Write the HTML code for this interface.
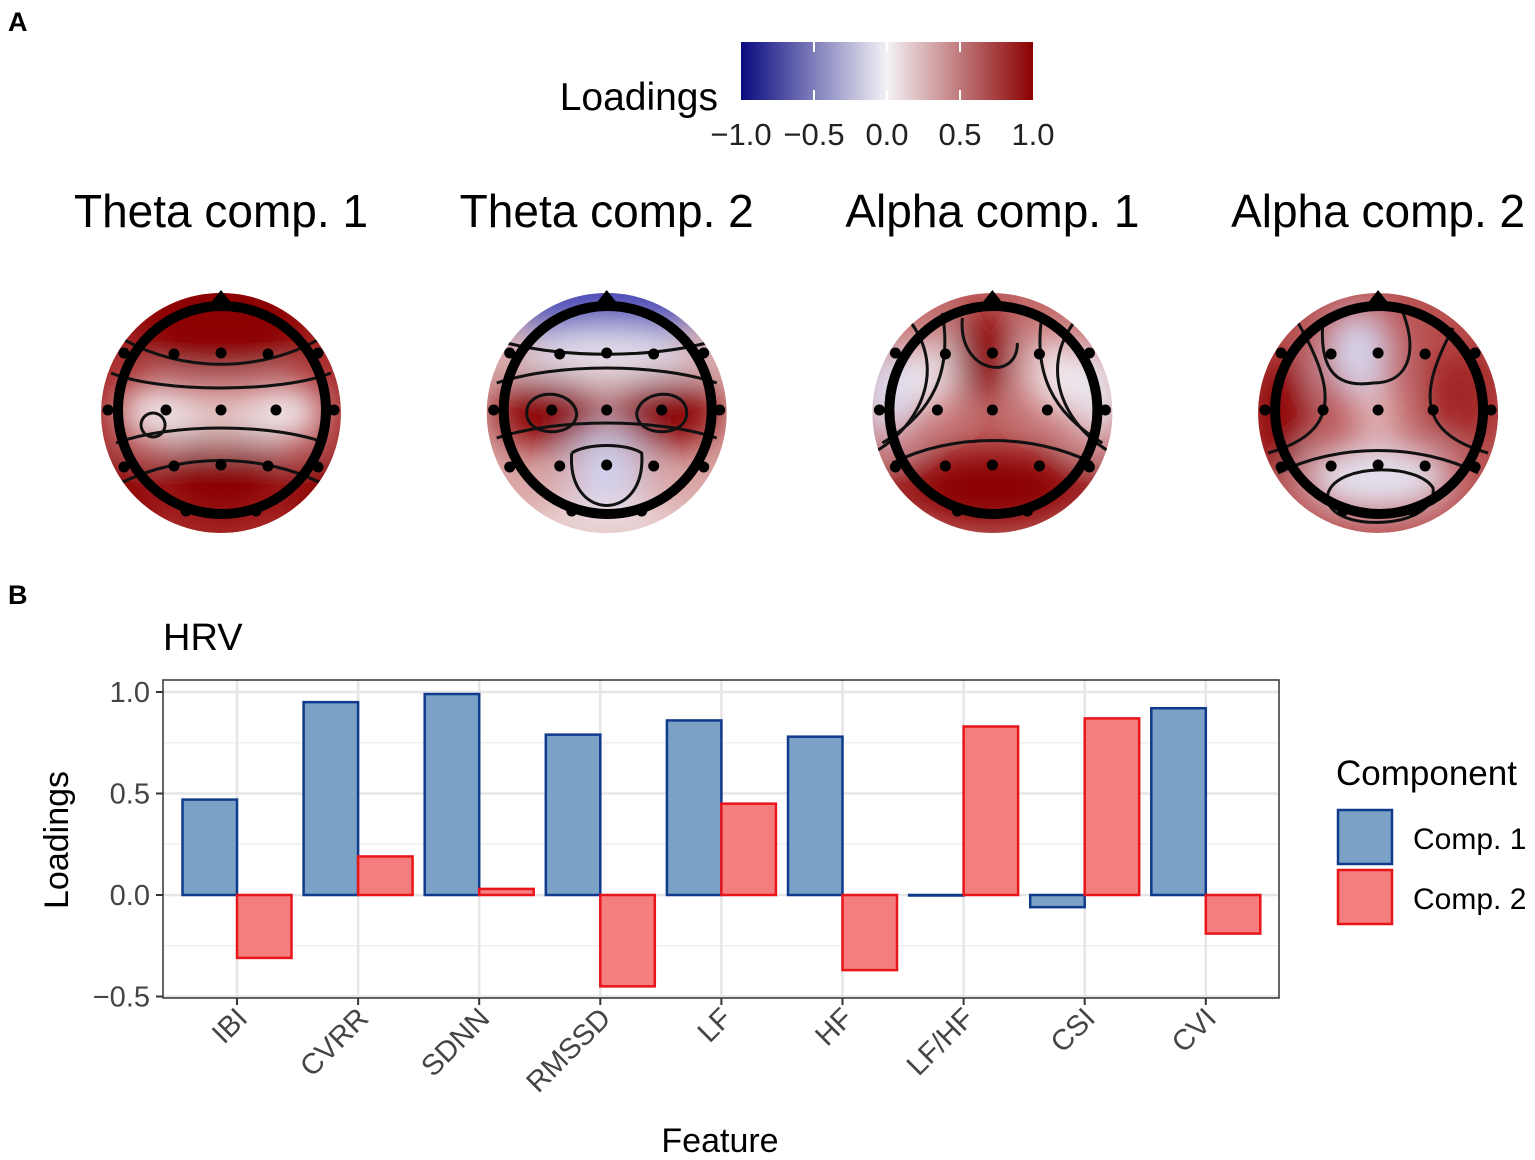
<!DOCTYPE html>
<html><head><meta charset="utf-8"><style>
body{margin:0;background:#fff;}
svg{display:block;font-family:"Liberation Sans",Arial,sans-serif;}
</style></head><body>
<svg id="root" width="1535" height="1160" viewBox="0 0 1535 1160">
<defs>
<linearGradient id="cbar" x1="0" x2="1" y1="0" y2="0">
<stop offset="0" stop-color="#0a0a80"/><stop offset="0.5" stop-color="#f4f2f6"/><stop offset="1" stop-color="#8b0000"/>
</linearGradient>
<filter id="blur" x="-50%" y="-50%" width="200%" height="200%"><feGaussianBlur stdDeviation="18"/></filter>
<clipPath id="hc"><circle cx="0" cy="0" r="120"/></clipPath>
</defs>
<text x="8" y="31" font-size="27" font-weight="bold">A</text>
<text x="8" y="604" font-size="27" font-weight="bold">B</text>
<g>
<text x="718" y="110" font-size="39" text-anchor="end">Loadings</text>
<rect x="741" y="42" width="292" height="58" fill="url(#cbar)"/>
<g id="cbticks" stroke="#fff" stroke-width="2"></g>
<g id="cblabels" font-size="31" fill="#222" text-anchor="middle"></g>
</g>
<g id="heads"></g>
<g id="bars-chart">
<text x="163" y="650" font-size="38">HRV</text>
<rect x="163" y="680" width="1116" height="318" fill="#fff"/>
<g id="grid"></g><g id="bars"></g>
<rect x="163" y="680" width="1116" height="318" fill="none" stroke="#333" stroke-width="1.5"/>
<g id="axes"></g>
<text x="720" y="1152" font-size="34" text-anchor="middle">Feature</text>
<text transform="translate(68,840) rotate(-90)" font-size="34" text-anchor="middle">Loadings</text>
<g>
<text x="1336" y="785" font-size="35">Component</text>
<rect x="1338" y="810" width="54" height="54" fill="#7ba1c6" stroke="#103b8c" stroke-width="2.5"/>
<text x="1413" y="849" font-size="30">Comp. 1</text>
<rect x="1338" y="870" width="54" height="54" fill="#f47e7e" stroke="#e8151b" stroke-width="2.5"/>
<text x="1413" y="909" font-size="30">Comp. 2</text>
</g>
</g>
</svg>
<script>
const categories=["IBI","CVRR","SDNN","RMSSD","LF","HF","LF/HF","CSI","CVI"];
const comp1=[0.47,0.95,0.99,0.79,0.86,0.78,0.0,-0.06,0.92];
const comp2=[-0.31,0.19,0.03,-0.45,0.45,-0.37,0.83,0.87,-0.19];
const yTicks=[-0.5,0,0.5,1.0];
const yTickLabels=["\u22120.5","0.0","0.5","1.0"];
const cbTicks=[-1,-0.5,0,0.5,1];
const cbTickLabels=["\u22121.0","\u22120.5","0.0","0.5","1.0"];
const headTitles=["Theta comp. 1","Theta comp. 2","Alpha comp. 1","Alpha comp. 2"];

const NS="http://www.w3.org/2000/svg";
function mk(tag,attrs,parent){const e=document.createElementNS(NS,tag);for(const k in attrs)e.setAttribute(k,attrs[k]);parent.appendChild(e);return e;}
const y=v=>895-(v*203);
const xc=i=>237+i*121.1;
const cbx=v=>887+v*146;

const cbt=document.getElementById('cbticks'),cbl=document.getElementById('cblabels');
cbTicks.forEach((v,i)=>{
 if(v>-1&&v<1){mk('line',{x1:cbx(v),x2:cbx(v),y1:42,y2:52},cbt);mk('line',{x1:cbx(v),x2:cbx(v),y1:90,y2:100},cbt);}
 const t=mk('text',{x:cbx(v),y:145},cbl);t.textContent=cbTickLabels[i];
 
 
});

const heads=document.getElementById('heads');
const RED="#8b0000",BLUE="#4a4ab8",WHITE="#f3eef2";
const headSpecs=[
 {base:"#a82a2a",blobs:[[0,-95,90,50,RED],[0,60,60,45,RED],[-60,0,45,30,WHITE],[60,0,45,30,WHITE],[0,0,30,30,"#e8c8c8"],[-110,90,40,40,RED],[110,90,40,40,RED]]},
 {base:"#d9a5a5",blobs:[[0,-110,100,45,BLUE],[0,-60,90,25,"#e8e4f0"],[-60,0,55,35,RED],[60,0,55,35,RED],[0,60,35,45,"#cfd0ee"],[0,110,90,20,"#f0dede"]]},
 {base:"#c46a6a",blobs:[[-10,-60,30,45,RED],[0,75,90,40,RED],[-105,-20,30,50,"#dcdcf0"],[105,-20,30,50,"#e8e4ee"],[-60,-40,20,40,WHITE],[60,-40,25,40,WHITE],[-110,80,20,20,RED],[110,80,20,20,RED]]},
 {base:"#b95050",blobs:[[-20,-60,35,45,"#d6d6ee"],[0,65,75,35,"#e4e4f2"],[-100,0,25,60,RED],[85,-20,35,45,"#a02020"],[0,0,25,25,"#e6c0c0"]]}
];
const elec=[[-47,-56],[0,-57],[47,-56],[-55,0],[0,0],[55,0],[-47,56],[0,55],[47,56],[-113,0],[113,0],[-97,-57],[97,-57],[-97,57],[97,57],[-35,101],[35,101]];
const contours=[
 ["M-110,-40 C-60,-20 60,-20 110,-40","M-105,30 C-50,10 50,10 105,30","M-100,-75 C-40,-40 40,-40 100,-75","M-100,70 C-40,40 40,40 100,70","M-68,0 a12,12 0 1,0 0.1,0"],
 ["M-110,-30 C-50,-50 50,-50 110,-30","M-110,25 C-50,5 50,5 110,25","M-100,-70 C-40,-55 40,-55 100,-70","M-35,40 C-40,110 40,110 35,40 C20,30 -20,30 -35,40","M-80,0 C-80,-25 -35,-25 -30,0 C-30,25 -80,25 -80,0","M80,0 C80,-25 35,-25 30,0 C30,25 80,25 80,0"],
 ["M-85,-95 C-40,-40 -80,20 -120,40","M85,-95 C40,-40 80,20 120,40","M-100,50 C-40,20 40,20 100,50","M-50,-100 C-40,-40 -60,0 -110,30","M50,-100 C40,-40 60,0 110,30","M-30,-95 C-35,-40 25,-30 25,-70"],
 ["M-55,-95 C-60,-40 -40,-25 -5,-30 C30,-30 40,-60 25,-100","M-100,60 C-40,30 40,30 100,60","M-80,-90 C-40,-20 -40,20 -110,40","M75,-85 C40,-20 40,20 110,40","M-50,80 C-60,120 60,120 55,75 C40,50 -40,50 -50,80"]
];
headSpecs.forEach((h,i)=>{
 const cx=221+i*385.7,cy=413;
 const g=mk('g',{transform:`translate(${cx},${cy})`},heads);
 
 
 const t=mk('text',{x:0,y:-186,'font-size':46,'text-anchor':'middle'},g);
 t.textContent=headTitles[i];
 
 
 const cg=mk('g',{'clip-path':'url(#hc)'},g);
 mk('circle',{cx:0,cy:0,r:120,fill:h.base},cg);
 const bg=mk('g',{filter:'url(#blur)'},cg);
 h.blobs.forEach(b=>mk('ellipse',{cx:b[0],cy:b[1],rx:b[2],ry:b[3],fill:b[4]},bg));
 contours[i].forEach(d=>mk('path',{d:d,fill:'none',stroke:'#111','stroke-width':3},cg));
 mk('circle',{cx:1,cy:-3,r:104,fill:'none',stroke:'#000','stroke-width':10},g);
 mk('path',{d:'M-15,-104 L0,-123 L15,-104 Z',fill:'#000'},g);
 elec.forEach(p=>mk('circle',{cx:p[0],cy:p[1]-3,r:5.5,fill:'#000'},g));
});

const grid=document.getElementById('grid'),bars=document.getElementById('bars'),axes=document.getElementById('axes');
[-0.25,0.25,0.75].forEach(v=>mk('line',{x1:163,x2:1279,y1:y(v),y2:y(v),stroke:'#f0f0f0','stroke-width':1.5},grid));
yTicks.forEach(v=>mk('line',{x1:163,x2:1279,y1:y(v),y2:y(v),stroke:'#e6e6e6','stroke-width':2.5},grid));
categories.forEach((c,i)=>mk('line',{x1:xc(i),x2:xc(i),y1:680,y2:998,stroke:'#e6e6e6','stroke-width':2.5},grid));
const bw=54.5;
function bar(v,x,fill,stroke,name){
 const r=mk('rect',{x:x,y:Math.min(y(v),y(0)),width:bw,height:Math.max(Math.abs(y(v)-y(0)),0.5),fill:fill,stroke:stroke,'stroke-width':2.5},bars);
 
 
}
categories.forEach((c,i)=>{
 bar(comp1[i],xc(i)-bw,'#7ba1c6','#103b8c','bar-comp1-'+c.toLowerCase().replace('/','-'));
 bar(comp2[i],xc(i),'#f47e7e','#e8151b','bar-comp2-'+c.toLowerCase().replace('/','-'));
 mk('line',{x1:xc(i),x2:xc(i),y1:998,y2:1005,stroke:'#333','stroke-width':2},axes);
 const t=mk('text',{transform:`translate(${xc(i)+12},${1020}) rotate(-45)`,'font-size':29,'text-anchor':'end',fill:'#444'},axes);
 t.textContent=c;
 
 
});
yTicks.forEach((v,i)=>{
 mk('line',{x1:156,x2:163,y1:y(v),y2:y(v),stroke:'#333','stroke-width':2},axes);
 const t=mk('text',{x:150,y:y(v)+10,'font-size':29,'text-anchor':'end',fill:'#444'},axes);
 t.textContent=yTickLabels[i];
 
 
});
</script>
</body></html>
